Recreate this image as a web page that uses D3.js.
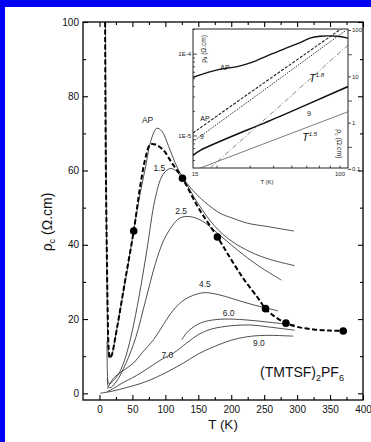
<!DOCTYPE html>
<html>
<head>
<meta charset="utf-8">
<script src="https://cdn.jsdelivr.net/npm/d3@7"></script>
<style>
  html, body { margin: 0; padding: 0; background: #0000f4; }
  svg { display: block; font-family: "Liberation Sans", Arial, sans-serif; }
</style>
</head>
<body>
<svg id="chart" width="371" height="442"></svg>
<script>
// main panel: rho_c (Ohm.cm) vs T (K), labels are pressures in kbar
const tempTicks = [0, 50, 100, 150, 200, 250, 300, 350, 400];
const tempMinor = [25, 75, 125, 175, 225, 275, 325, 375];
const rhoTicks = [0, 20, 40, 60, 80, 100];
const rhoMinor = [10, 30, 50, 70, 90];

const dashedAP = [[8.5,104],[9,80],[10,55],[11,40],[12.5,22],[14,12],[16,9.5],[19,10.5],[24,15],[30,21],[40,31.5],[52,43.7],[62,56],[70,63.5],[77,67],[85,67],[97,65.5],[110,62],[126,57.9],[150,50],[179,42.1],[200,36],[220,30.5],[240,25.8],[252,22.8],[265,20.8],[283,18.9],[300,17.9],[325,17.2],[350,16.9],[370,16.8]];
const dots = [[52,43.7],[126,57.9],[179,42.1],[252,22.8],[283,18.9],[370,16.8]];

const curveAP = [[9,104],[10,60],[11.5,30],[13,13],[15,9.5],[18,10],[24,15],[32,23],[42,33],[52,44],[62,54],[70,61],[78,68],[87,71.4],[95,70.5],[105,66.5],[115,62],[126,58.2],[140,55],[160,51.5],[183,48.5],[200,47.3],[225,45.8],[252,45],[295,43.7]];
const curve15 = [[11.5,14],[12,6],[13.5,2.8],[16,2.6],[20,3.2],[30,5.5],[40,10],[50,17],[60,26],[72,38.6],[84,52],[95,58.5],[105,60.4],[112,60.4],[126,57.9],[150,51],[175,45],[198,41.3],[230,38],[260,36],[296,34.4]];
const curve25 = [[12,4],[13,2],[16,1.5],[25,3],[40,8],[55,15],[70,25],[85,35],[97,41],[110,45],[122,47.2],[137,47.6],[155,46.5],[180,43],[210,38.5],[240,34.5],[276,30.5]];
const curve45 = [[12,1.2],[21,4],[35,6],[51.5,8.1],[65,11],[82,14.4],[97,18.5],[112,22.4],[125,24.7],[137,26],[158,27.1],[180,26.6],[200,25.6],[230,24],[255,22.9],[271,22.2]];
const curve60 = [[125,14.4],[135,16.8],[153,18.9],[170,19.7],[190,20],[220,19.8],[250,19.3],[275,18.8],[296,18.5]];
const curve70 = [[11,0.4],[20,1.2],[35,2.8],[50,4.2],[62,5.4],[80,7.5],[95,9.2],[112,10.8],[132,13.5],[150,15.8],[170,17.3],[200,18.2],[230,18.4],[260,17.8],[296,17]];
const curve90 = [[1,0],[20,0.6],[40,1.5],[60,2.5],[77,3.6],[100,5.5],[127,8.1],[150,10.6],[173,12.5],[200,14.3],[223,15.2],[250,15.6],[294,15.4]];

const curveLabels = [["AP",73,73.5],["1.5",91,60.8],["2.5",124,49.2],["4.5",160,29.3],["6.0",196,21.7],["7.0",103,10.3],["9.0",242,13.5]];

// inset: log-log, rho_a on the left axis, rho_c on the right axis
const insetTempTicks = [15, 100];
const insetTempMinor = [20, 30, 40, 50, 60, 70, 80, 90];
const insetLeftTicks = [1e-5, 1e-4];
const insetLeftMinor = [5e-6, 6e-6, 7e-6, 8e-6, 9e-6, 2e-5, 3e-5, 4e-5, 5e-5, 6e-5, 7e-5, 8e-5, 9e-5, 2e-4];
const insetRightTicks = [0.1, 1, 10, 100];
const insetRightMinor = [0.3, 3, 30];

const rhoA_AP = [[15,5.14e-5],[20.4,6.38e-5],[26.1,7.0e-5],[30.8,7.83e-5],[38.5,9.72e-5],[46.2,1.15e-4],[55.6,1.36e-4],[62.8,1.55e-4],[71,1.63e-4],[87,1.63e-4],[100,1.55e-4]];
const rhoA_9 = [[15,5.7e-6],[16.4,6.56e-6],[43.5,1.71e-5],[100,3.96e-5]];
const rhoC_AP = [[15,0.6],[33.9,6.2],[93,109]];
const rhoC_9 = [[15,0.39],[33.9,4.3],[98,100]];
const guideT18 = [[18.5,0.105],[100,47]];
const guideT15 = [[16.4,0.105],[100,1.72]];

const svg = d3.select("#chart");

svg.append("rect")
    .attr("x", 5).attr("y", 7)
    .attr("width", 366).attr("height", 435)
    .attr("fill", "#fff");

const mLeft = 83, mRight = 363, mTop = 22, mBottom = 400;

const x = d3.scaleLinear().domain([-25, 400]).range([mLeft, mRight]);
const y = d3.scaleLinear().domain([-1.8, 100]).range([mBottom, mTop]);

svg.append("clipPath").attr("id", "mainClip")
    .append("rect")
    .attr("x", mLeft).attr("y", mTop)
    .attr("width", mRight - mLeft).attr("height", mBottom - mTop);

// axes, ticks pointing inward
function tickAxis(axis, tx, ty) {
    const g = svg.append("g")
        .attr("transform", `translate(${tx},${ty})`)
        .call(axis);
    g.select(".domain").remove();
    g.selectAll("line").attr("stroke", "#000").attr("stroke-width", 1.1);
    return g;
}

const bottomAxis = tickAxis(d3.axisBottom(x).tickValues(tempTicks).tickSize(-5).tickSizeOuter(0).tickPadding(6), 0, mBottom);
tickAxis(d3.axisBottom(x).tickValues(tempMinor).tickSize(-3).tickSizeOuter(0).tickFormat(""), 0, mBottom);
tickAxis(d3.axisTop(x).tickValues(tempTicks).tickSize(-5).tickSizeOuter(0).tickFormat(""), 0, mTop);
tickAxis(d3.axisTop(x).tickValues(tempMinor).tickSize(-3).tickSizeOuter(0).tickFormat(""), 0, mTop);
const leftAxis = tickAxis(d3.axisLeft(y).tickValues(rhoTicks).tickSize(-5).tickSizeOuter(0).tickPadding(4), mLeft, 0);
tickAxis(d3.axisLeft(y).tickValues(rhoMinor).tickSize(-3).tickSizeOuter(0).tickFormat(""), mLeft, 0);
tickAxis(d3.axisRight(y).tickValues(rhoTicks).tickSize(-5).tickSizeOuter(0).tickFormat(""), mRight, 0);
tickAxis(d3.axisRight(y).tickValues(rhoMinor).tickSize(-3).tickSizeOuter(0).tickFormat(""), mRight, 0);

bottomAxis.selectAll("text").attr("font-size", 10).attr("fill", "#111")
    .attr("font-family", "Liberation Sans, Arial, sans-serif");
leftAxis.selectAll("text").attr("font-size", 10).attr("fill", "#111")
    .attr("font-family", "Liberation Sans, Arial, sans-serif");

svg.append("rect")
    .attr("x", mLeft).attr("y", mTop)
    .attr("width", mRight - mLeft).attr("height", mBottom - mTop)
    .attr("fill", "none").attr("stroke", "#000").attr("stroke-width", 1.3);

const line = d3.line()
    .x(d => x(d[0]))
    .y(d => y(d[1]))
    .curve(d3.curveCatmullRom.alpha(0.5));

const plot = svg.append("g").attr("clip-path", "url(#mainClip)");

[curveAP, curve15, curve25, curve45, curve60, curve70, curve90].forEach(c => {
    plot.append("path")
        .datum(c)
        .attr("d", line)
        .attr("fill", "none")
        .attr("stroke", "#222")
        .attr("stroke-width", 0.8);
});

plot.append("path")
    .datum(dashedAP)
    .attr("d", line)
    .attr("fill", "none")
    .attr("stroke", "#000")
    .attr("stroke-width", 2)
    .attr("stroke-dasharray", "5,2.5");

plot.selectAll("circle")
    .data(dots)
    .enter().append("circle")
    .attr("cx", d => x(d[0]))
    .attr("cy", d => y(d[1]))
    .attr("r", 3.8)
    .attr("fill", "#000");

svg.selectAll(".curve-label")
    .data(curveLabels)
    .enter().append("text")
    .attr("class", "curve-label")
    .attr("x", d => x(d[1]))
    .attr("y", d => y(d[2]))
    .attr("dy", "0.35em")
    .attr("text-anchor", "middle")
    .attr("font-size", 8.5)
    .attr("fill", "#222")
    .text(d => d[0]);

// axis titles
const yTitle = svg.append("text")
    .attr("transform", "translate(52,222) rotate(-90)")
    .attr("text-anchor", "middle")
    .attr("font-size", 14)
    .attr("fill", "#111");
yTitle.append("tspan").text("ρ");
yTitle.append("tspan").attr("font-size", 9).attr("dy", 3).text("c");
yTitle.append("tspan").attr("dy", -3).text(" (Ω.cm)");

svg.append("text")
    .attr("x", 223).attr("y", 429)
    .attr("text-anchor", "middle")
    .attr("font-size", 13.5)
    .attr("fill", "#111")
    .text("T (K)");

const compound = svg.append("text")
    .attr("x", 260).attr("y", 377)
    .attr("font-size", 14)
    .attr("fill", "#111");
compound.append("tspan").text("(TMTSF)");
compound.append("tspan").attr("font-size", 9).attr("dy", 4).text("2");
compound.append("tspan").attr("dy", -4).text("PF");
compound.append("tspan").attr("font-size", 9).attr("dy", 4).text("6");

// ---- inset ----
const il = 193, ir = 348, it = 29, ib = 168;
const ix = d3.scaleLog().domain([15, 100]).range([il, ir]);
const iyLeft = d3.scaleLog().domain([4e-6, 2e-4]).range([ib, it]);
const iyRight = d3.scaleLog().domain([0.105, 105]).range([ib, it]);

svg.append("rect")
    .attr("x", il).attr("y", it)
    .attr("width", ir - il).attr("height", ib - it)
    .attr("fill", "#fff");

svg.append("clipPath").attr("id", "insetClip")
    .append("rect")
    .attr("x", il).attr("y", it)
    .attr("width", ir - il).attr("height", ib - it);

function insetTicks(axis, tx, ty) {
    const g = svg.append("g")
        .attr("transform", `translate(${tx},${ty})`)
        .call(axis);
    g.select(".domain").remove();
    g.selectAll("line").attr("stroke", "#222").attr("stroke-width", 0.8);
    g.selectAll("text").attr("font-size", 6).attr("fill", "#222")
        .attr("font-family", "Liberation Sans, Arial, sans-serif");
    return g;
}

insetTicks(d3.axisBottom(ix).tickValues(insetTempMinor).tickSize(-2.5).tickSizeOuter(0).tickFormat(""), 0, ib);
insetTicks(d3.axisLeft(iyLeft).tickValues(insetLeftTicks).tickSize(-4).tickSizeOuter(0).tickPadding(2)
    .tickFormat(d => d === 1e-4 ? "1E-4" : "1E-5"), il, 0);
insetTicks(d3.axisLeft(iyLeft).tickValues(insetLeftMinor).tickSize(-2).tickSizeOuter(0).tickFormat(""), il, 0);
insetTicks(d3.axisRight(iyRight).tickValues(insetRightTicks).tickSize(3).tickSizeOuter(0).tickPadding(1)
    .tickFormat(d => String(d)), ir, 0);
insetTicks(d3.axisRight(iyRight).tickValues(insetRightMinor).tickSize(4).tickSizeOuter(0).tickFormat(""), ir, 0);

svg.selectAll(".inset-tlabel")
    .data(insetTempTicks)
    .enter().append("text")
    .attr("class", "inset-tlabel")
    .attr("x", d => ix(d) + (d === 100 ? -8 : 2))
    .attr("y", ib + 8)
    .attr("text-anchor", "middle")
    .attr("font-size", 6)
    .attr("fill", "#222")
    .text(d => d);

svg.append("rect")
    .attr("x", il).attr("y", it)
    .attr("width", ir - il).attr("height", ib - it)
    .attr("fill", "none").attr("stroke", "#222").attr("stroke-width", 1);

const inset = svg.append("g").attr("clip-path", "url(#insetClip)");

const lineLeft = d3.line().x(d => ix(d[0])).y(d => iyLeft(d[1])).curve(d3.curveCatmullRom.alpha(0.5));
const lineRight = d3.line().x(d => ix(d[0])).y(d => iyRight(d[1])).curve(d3.curveCatmullRom.alpha(0.5));

const insetSeries = [
    { data: rhoA_AP, gen: lineLeft, width: 1.3, dash: null, color: "#111" },
    { data: rhoA_9, gen: lineLeft, width: 1.6, dash: null, color: "#111" },
    { data: rhoC_AP, gen: lineRight, width: 1.1, dash: "3,1.5", color: "#222" },
    { data: rhoC_9, gen: lineRight, width: 1, dash: "1.5,1.2", color: "#333" },
    { data: guideT18, gen: lineRight, width: 0.7, dash: "5,2,1,2", color: "#555" },
    { data: guideT15, gen: lineRight, width: 0.7, dash: null, color: "#444" }
];

insetSeries.forEach(s => {
    inset.append("path")
        .datum(s.data)
        .attr("d", s.gen)
        .attr("fill", "none")
        .attr("stroke", s.color)
        .attr("stroke-width", s.width)
        .attr("stroke-dasharray", s.dash);
});

const insetText = [["AP", 225, 70], ["AP", 205, 121], ["9", 202, 139], ["9", 309, 116]];
svg.selectAll(".inset-label")
    .data(insetText)
    .enter().append("text")
    .attr("class", "inset-label")
    .attr("x", d => d[1]).attr("y", d => d[2])
    .attr("text-anchor", "middle")
    .attr("font-size", 7)
    .attr("fill", "#111")
    .text(d => d[0]);

function powerLabel(px, py, exp) {
    const t = svg.append("text")
        .attr("x", px).attr("y", py)
        .attr("font-size", 11)
        .attr("font-style", "italic")
        .attr("fill", "#111");
    t.append("tspan").text("T");
    t.append("tspan").attr("font-size", 6).attr("dy", -5).text(exp);
}
powerLabel(309, 82, "1.8");
powerLabel(302, 141, "1.5");

const aTitle = svg.append("text")
    .attr("transform", "translate(205.5,49) rotate(-90)")
    .attr("text-anchor", "middle")
    .attr("font-size", 6.5)
    .attr("fill", "#222");
aTitle.append("tspan").text("ρ");
aTitle.append("tspan").attr("font-size", 4.5).attr("dy", 1.5).text("a");
aTitle.append("tspan").attr("dy", -1.5).text(" (Ω.cm)");

const cTitle = svg.append("text")
    .attr("transform", "translate(336.5,144) rotate(90)")
    .attr("text-anchor", "middle")
    .attr("font-size", 7)
    .attr("fill", "#222");
cTitle.append("tspan").text("ρ");
cTitle.append("tspan").attr("font-size", 4.5).attr("dy", 1.5).text("c");
cTitle.append("tspan").attr("dy", -1.5).text(" (Ω.cm)");

svg.append("text")
    .attr("x", 267).attr("y", 184)
    .attr("text-anchor", "middle")
    .attr("font-size", 6)
    .attr("fill", "#222")
    .text("T (K)");
</script>
</body>
</html>
